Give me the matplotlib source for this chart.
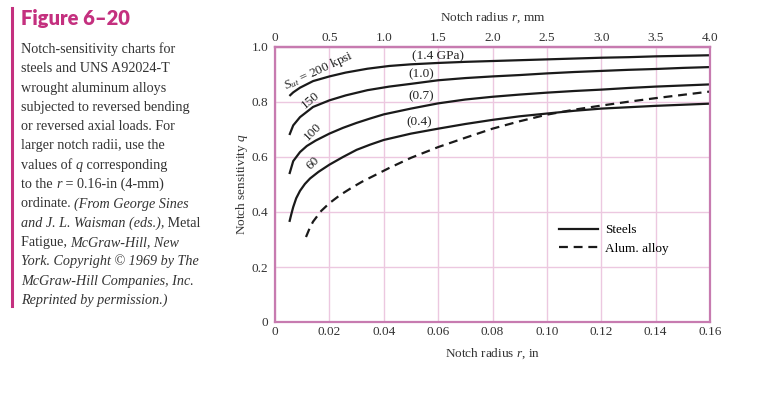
import numpy as np
import matplotlib
matplotlib.use("Agg")
import matplotlib.pyplot as plt

# notch radius r (in) and notch sensitivity q
r_200 = [0.0053, 0.0067, 0.0092, 0.014, 0.02, 0.026, 0.034, 0.042, 0.05, 0.06,
         0.07, 0.08, 0.09, 0.10, 0.11, 0.12, 0.13, 0.14, 0.15, 0.16]
q_200 = [0.822, 0.835, 0.852, 0.876, 0.893, 0.907, 0.921, 0.931, 0.937, 0.942,
         0.946, 0.949, 0.952, 0.955, 0.958, 0.961, 0.963, 0.966, 0.968, 0.970]

r_150 = [0.0053, 0.0067, 0.0092, 0.014, 0.02, 0.026, 0.034, 0.042, 0.05, 0.06,
         0.07, 0.08, 0.09, 0.10, 0.11, 0.12, 0.13, 0.14, 0.15, 0.16]
q_150 = [0.680, 0.715, 0.745, 0.782, 0.806, 0.824, 0.843, 0.856, 0.866, 0.879,
         0.887, 0.893, 0.898, 0.904, 0.909, 0.913, 0.917, 0.920, 0.924, 0.927]

r_100 = [0.0053, 0.0067, 0.0092, 0.0117, 0.015, 0.02, 0.025, 0.03, 0.035, 0.04,
         0.05, 0.06, 0.07, 0.08, 0.09, 0.10, 0.11, 0.12, 0.13, 0.14, 0.15, 0.16]
q_100 = [0.538, 0.585, 0.618, 0.640, 0.660, 0.685, 0.706, 0.724, 0.740, 0.755,
         0.776, 0.795, 0.809, 0.819, 0.827, 0.834, 0.840, 0.845, 0.851, 0.856, 0.860, 0.864]

r_60 = [0.0053, 0.0060, 0.0067, 0.0078, 0.0092, 0.011, 0.0129, 0.016, 0.02, 0.025,
        0.03, 0.035, 0.04, 0.05, 0.06, 0.07, 0.08, 0.09, 0.10, 0.11, 0.12, 0.13,
        0.14, 0.15, 0.16]
q_60 = [0.364, 0.392, 0.418, 0.450, 0.477, 0.502, 0.522, 0.546, 0.572, 0.600,
        0.626, 0.645, 0.662, 0.685, 0.703, 0.720, 0.735, 0.748, 0.758, 0.768,
        0.776, 0.781, 0.786, 0.790, 0.794]

r_alum = [0.0114, 0.0127, 0.014, 0.017, 0.02, 0.024, 0.028, 0.032, 0.036, 0.042, 0.05,
          0.06, 0.07, 0.08, 0.09, 0.10, 0.11, 0.12, 0.13, 0.14, 0.15, 0.16]
q_alum = [0.309, 0.340, 0.365, 0.404, 0.432, 0.462, 0.487, 0.510, 0.530, 0.560, 0.597,
          0.636, 0.670, 0.703, 0.730, 0.754, 0.772, 0.787, 0.801, 0.814, 0.826, 0.838]

x_ticks = [0, 0.02, 0.04, 0.06, 0.08, 0.10, 0.12, 0.14, 0.16]
x_labels = ["0", "0.02", "0.04", "0.06", "0.08", "0.10", "0.12", "0.14", "0.16"]
mm_ticks = [0, 0.5, 1.0, 1.5, 2.0, 2.5, 3.0, 3.5, 4.0]
mm_labels = ["0", "0.5", "1.0", "1.5", "2.0", "2.5", "3.0", "3.5", "4.0"]
y_ticks = [0, 0.2, 0.4, 0.6, 0.8, 1.0]
y_labels = ["0", "0.2", "0.4", "0.6", "0.8", "1.0"]

serif = "Liberation Serif"
magenta = "#c4307f"
spine_col = "#c77bb0"
grid_col = "#ecc8e0"

plt.rcParams["mathtext.fontset"] = "custom"
plt.rcParams["mathtext.rm"] = serif
plt.rcParams["mathtext.it"] = serif + ":italic"

fig = plt.figure(figsize=(7.68, 3.98), dpi=100)
ax = fig.add_axes([275 / 768, 1 - 322 / 398, 435 / 768, 275 / 398])

for r, q in [(r_200, q_200), (r_150, q_150), (r_100, q_100), (r_60, q_60)]:
    ax.plot(r, q, color="#1a1a1a", lw=1.6, solid_capstyle="butt")
ax.plot(r_alum, q_alum, color="#1a1a1a", lw=1.6, ls=(0, (4, 2.6)))

ax.set_xlim(0, 0.16)
ax.set_ylim(0, 1.0)
ax.set_xticks(x_ticks)
ax.set_xticklabels(x_labels)
ax.set_yticks(y_ticks)
ax.set_yticklabels(y_labels)
ax.grid(True, color=grid_col, lw=1.0)
ax.set_axisbelow(True)
ax.tick_params(axis="x", length=0, labelsize=9.5, labelcolor="#333333", pad=3)
ax.tick_params(axis="y", length=0, labelsize=9.5, labelcolor="#333333", pad=5)
for lbl in ax.get_xticklabels() + ax.get_yticklabels():
    lbl.set_family(serif)
for s in ax.spines.values():
    s.set_color(spine_col)
    s.set_linewidth(1.6)

top = ax.secondary_xaxis("top", functions=(lambda x: x * 25, lambda x: x / 25))
top.set_xticks(mm_ticks)
top.set_xticklabels(mm_labels)
top.tick_params(length=0, labelsize=9.5, labelcolor="#333333", pad=2)
for lbl in top.get_xticklabels():
    lbl.set_family(serif)
top.spines["top"].set_color(spine_col)
top.spines["top"].set_linewidth(1.6)
top.set_xlabel("Notch radius $\\mathit{r}$, mm", family=serif, fontsize=9.5,
               color="#333333", labelpad=8)

ax.set_xlabel("Notch radius $\\mathit{r}$, in", family=serif, fontsize=9.5,
              color="#333333", labelpad=6)
ax.set_ylabel("Notch sensitivity $\\mathit{q}$", family=serif, fontsize=9.5,
              color="#333333", labelpad=1)

# curve labels
tk = dict(family=serif, fontsize=9.5, color="#222222", ha="center", va="center")
ax.text(0.0162, 0.912, "$S_{ut}$ = 200 kpsi", rotation=25, **tk)
ax.text(0.0129, 0.806, "150", rotation=40, **tk)
ax.text(0.0140, 0.690, "100", rotation=45, **tk)
ax.text(0.0140, 0.577, "60", rotation=45, **tk)
ax.text(0.0600, 0.966, "(1.4 GPa)", **tk)
ax.text(0.0537, 0.900, "(1.0)", **tk)
ax.text(0.0537, 0.820, "(0.7)", **tk)
ax.text(0.0530, 0.727, "(0.4)", **tk)

# legend
ax.plot([], [], color="#1a1a1a", lw=1.6, label="Steels")
ax.plot([], [], color="#1a1a1a", lw=1.6, ls=(0, (4, 2.6)), label="Alum. alloy")
handles, labels = ax.get_legend_handles_labels()
leg = ax.legend(handles[-2:], labels[-2:], loc="center left",
                bbox_to_anchor=(0.625, 0.30), frameon=False,
                prop={"family": serif, "size": 9.5}, handlelength=3.0,
                labelspacing=0.5, handletextpad=0.5)

# caption on the left
fig.add_artist(plt.Line2D([12 / 768, 12 / 768], [1 - 8 / 398, 1 - 306 / 398],
                          color=magenta, lw=2.2, transform=fig.transFigure))
fig.text(21 / 768, 1 - 18 / 398, "Figure 6–20", fontsize=14.5, weight="heavy",
         color=magenta, family="Lato", va="center")

renderer = fig.canvas.get_renderer()


def rich_line(x, y, parts):
    # draw a line of text made of normal and italic pieces
    for s, st in parts:
        t = fig.text(x, y, s, family=serif, style=st, fontsize=10.2,
                     color="#333333", va="baseline")
        bb = t.get_window_extent(renderer)
        x += bb.width / fig.bbox.width


caption = [
    [("Notch-sensitivity charts for", "normal")],
    [("steels and UNS A92024-T", "normal")],
    [("wrought aluminum alloys", "normal")],
    [("subjected to reversed bending", "normal")],
    [("or reversed axial loads. For", "normal")],
    [("larger notch radii, use the", "normal")],
    [("values of ", "normal"), ("q", "italic"), (" corresponding", "normal")],
    [("to the ", "normal"), ("r", "italic"), (" = 0.16-in (4-mm)", "normal")],
    [("ordinate. ", "normal"), ("(From George Sines", "italic")],
    [("and J. L. Waisman (eds.),", "italic"), (" Metal", "normal")],
    [("Fatigue, ", "normal"), ("McGraw-Hill, New", "italic")],
    [("York. Copyright © 1969 by The", "italic")],
    [("McGraw-Hill Companies, Inc.", "italic")],
    [("Reprinted by permission.)", "italic")],
]
for i, parts in enumerate(caption):
    y_px = 53 + i * 19.3
    rich_line(21 / 768, 1 - y_px / 398, parts)

fig.savefig("out.png", dpi=100)
